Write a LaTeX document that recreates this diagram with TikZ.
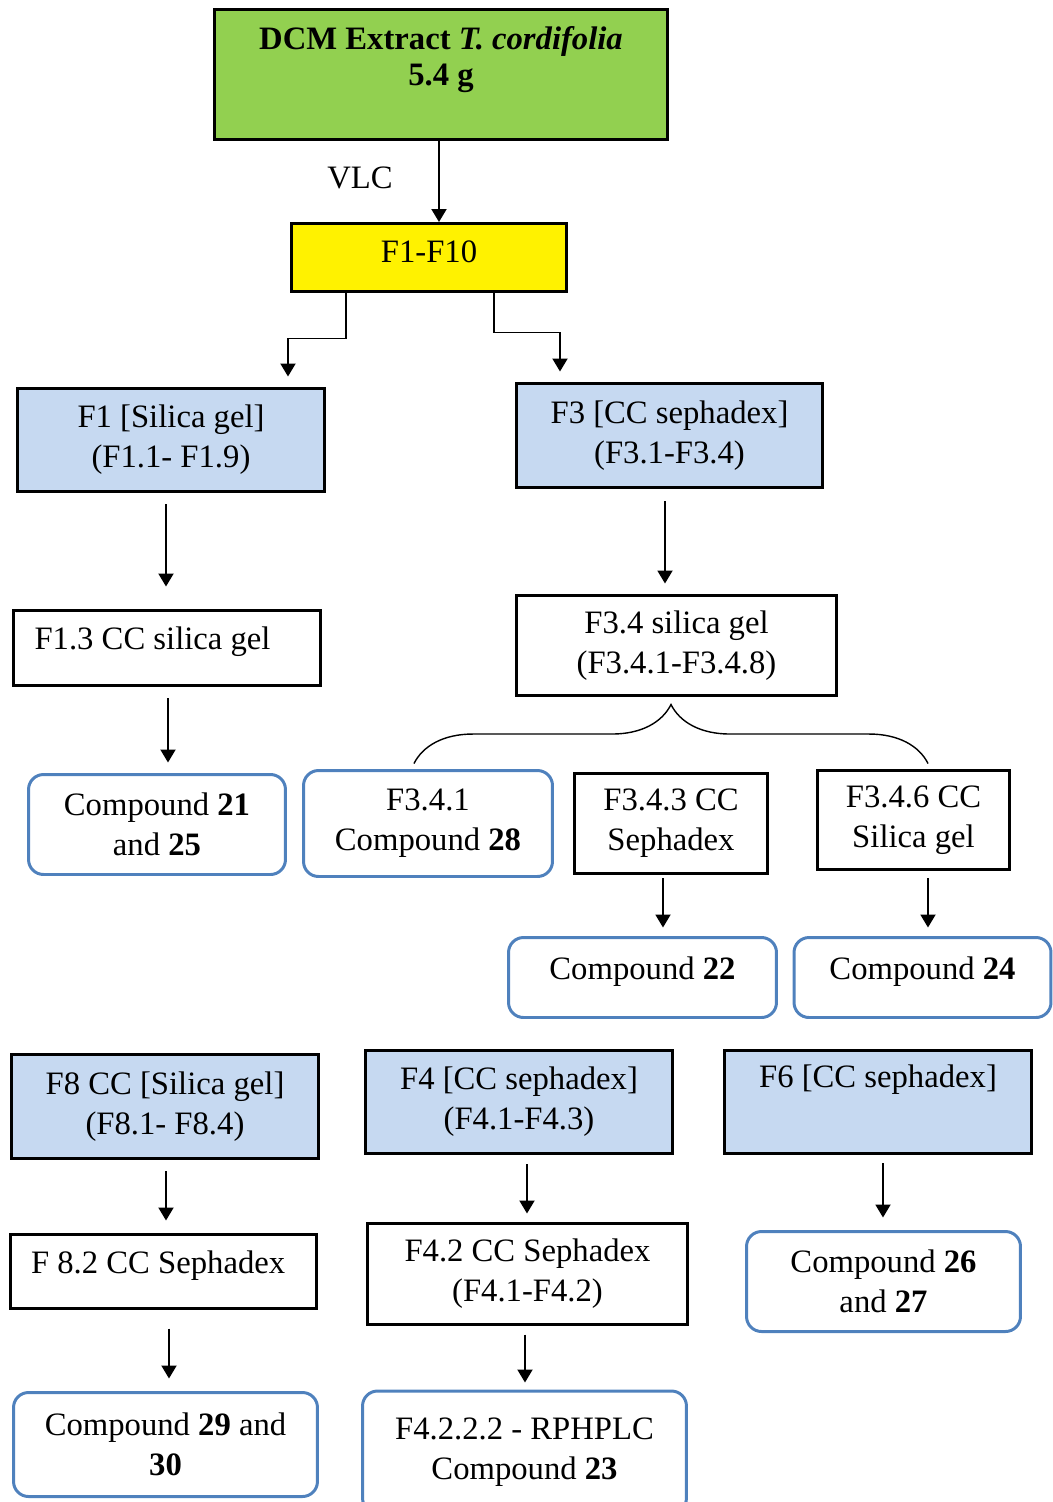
\documentclass[tikz,border=0pt]{standalone}
\usepackage{fontspec}
\setmainfont{Liberation Serif}
\usetikzlibrary{arrows.meta,calc,decorations.pathreplacing}
\definecolor{extractgreen}{HTML}{92D050}
\definecolor{fracblue}{HTML}{C6D9F1}
\definecolor{cmpdblue}{HTML}{4F81BD}

\begin{document}
\begin{tikzpicture}[x=0.02cm, y=-0.02cm,
  font=\fontsize{18.6}{22.8}\selectfont,
  block/.style = {rectangle, draw=black, line width=1.7pt, align=flush center, inner sep=0pt},
  column/.style = {block, fill=fracblue},
  leftblock/.style = {block, align=flush left, text width=5.3cm},
  compound/.style = {rectangle, rounded corners=0.3cm, draw=cmpdblue, line width=1.7pt, align=flush center, inner sep=0pt},
  oneline/.style = {text depth=0.38cm},
  flow/.style = {-{Triangle[width=0.3cm,length=0.26cm]}, line width=1.1pt}]

\useasboundingbox (0,0) rectangle (1053,1502);

% extract and VLC fractions
\node[block, fill=extractgreen, minimum width=9.06cm, minimum height=2.6cm, text depth=0.74cm] (dcm) at (441,74.5)
  {\textbf{DCM Extract \textit{T. cordifolia}}\\[-0.08cm] \textbf{5.4 g}};
\node (vlc) at (360,178) {VLC};
\node[block, fill=yellow, minimum width=5.5cm, minimum height=1.36cm, text depth=0.22cm] (fr) at (429,257.5) {F1-F10};

% column fractions
\node[column, minimum width=6.14cm, minimum height=2.06cm] (f1) at (171,440) {F1 [Silica gel]\\ (F1.1- F1.9)};
\node[column, minimum width=6.12cm, minimum height=2.08cm] (f3) at (669.5,435.5) {F3 [CC sephadex]\\ (F3.1-F3.4)};
\node[leftblock, oneline, minimum width=6.14cm, minimum height=1.5cm] (f13) at (167,648) {F1.3 CC silica gel};
\node[block, minimum width=6.4cm, minimum height=2cm] (f34) at (676.5,645.5) {F3.4 silica gel\\ (F3.4.1-F3.4.8)};

\node[compound, minimum width=5.14cm, minimum height=2cm] (c21) at (157,824.5) {Compound \textbf{21}\\ and \textbf{25}};
\node[compound, minimum width=4.98cm, minimum height=2.12cm] (f341) at (428,823.5) {F3.4.1\\ Compound \textbf{28}};
\node[block, minimum width=3.86cm, minimum height=2cm] (f343) at (671,823.5) {F3.4.3 CC\\ Sephadex};
\node[block, minimum width=3.84cm, minimum height=1.98cm] (f346) at (913.5,820) {F3.4.6 CC\\ Silica gel};
\node[compound, oneline, minimum width=5.36cm, minimum height=1.6cm] (c22) at (642.5,977.5) {Compound \textbf{22}};
\node[compound, oneline, minimum width=5.14cm, minimum height=1.6cm] (c24) at (922.5,977.5) {Compound \textbf{24}};

\node[column, minimum width=6.14cm, minimum height=2.08cm] (f8) at (165,1106.5) {F8 CC [Silica gel]\\ (F8.1- F8.4)};
\node[column, minimum width=6.14cm, minimum height=2.06cm] (f4) at (519,1102) {F4 [CC sephadex]\\ (F4.1-F4.3)};
\node[column, minimum width=6.14cm, minimum height=2.06cm] (f6) at (878,1102) {F6 [CC sephadex]\\ \strut};
\node[leftblock, oneline, minimum width=6.12cm, minimum height=1.48cm] (f82) at (163.5,1271.5) {F 8.2 CC Sephadex};
\node[block, minimum width=6.4cm, minimum height=2.02cm] (f42) at (527.5,1274) {F4.2 CC Sephadex\\ (F4.1-F4.2)};
\node[compound, minimum width=5.48cm, minimum height=2cm] (c26) at (883.5,1281.5) {Compound \textbf{26}\\ and \textbf{27}};
\node[compound, minimum width=6.08cm, minimum height=2.08cm] (c29) at (165.5,1444.5) {Compound \textbf{29} and\\ \textbf{30}};
\node[compound, minimum width=6.48cm, minimum height=2.44cm] (c23) at (524.5,1452) {F4.2.2.2 - RPHPLC\\ Compound \textbf{23}};

% arrows
\draw[flow] ($(dcm.south)+(-2,0)$) -- ($(dcm.south |- fr.north)+(-2,0)$);
\draw[flow] ($(fr.south)+(-83,0)$) -- ++(0,45.5) -| ($(f1.north)+(117,-10.5)$);
\draw[flow] ($(fr.south)+(65,0)$) -- ++(0,39.5) -| ($(f3.north)+(-109.5,-10.5)$);
\draw[flow] ($(f1.south)+(-5,11.5)$) -- ($(f1.south |- f13.north)+(-5,-22.5)$);
\draw[flow] ($(f13.south)+(1,11.5)$) -- ($(f13.south |- c21.north)+(1,-10.5)$);
\draw[flow] ($(f3.south)+(-4.5,12.5)$) -- ($(f3.south |- f34.north)+(-4.5,-10.5)$);
\draw[flow] ($(f343.south)+(-8,3.5)$) -- ($(f343.south |- c22.north)+(-8,-8.5)$);
\draw[flow] ($(f346.south)+(14.5,7.5)$) -- ($(f346.south |- c24.north)+(14.5,-8.5)$);
\draw[flow] ($(f8.south)+(1,11.5)$) -- ($(f8.south |- f82.north)+(1,-12.5)$);
\draw[flow] ($(f82.south)+(5.5,18.5)$) -- ($(f82.south |- c29.north)+(5.5,-12.5)$);
\draw[flow] ($(f4.south)+(8,9.5)$) -- ($(f4.south |- f42.north)+(8,-8.5)$);
\draw[flow] ($(f42.south)+(-2.5,8.5)$) -- ($(f42.south |- c23.north)+(-2.5,-7)$);
\draw[flow] ($(f6.south)+(5,8.5)$) -- ($(f6.south |- c26.north)+(5,-12.5)$);

% brace over the F3.4 subfractions
\draw[line width=0.8pt, decorate, decoration={brace, amplitude=1.18cm}]
  ($(f341.north)+(-14,-5.5)$) -- ($(f346.north)+(14.5,-5.5)$);
\end{tikzpicture}
\end{document}
